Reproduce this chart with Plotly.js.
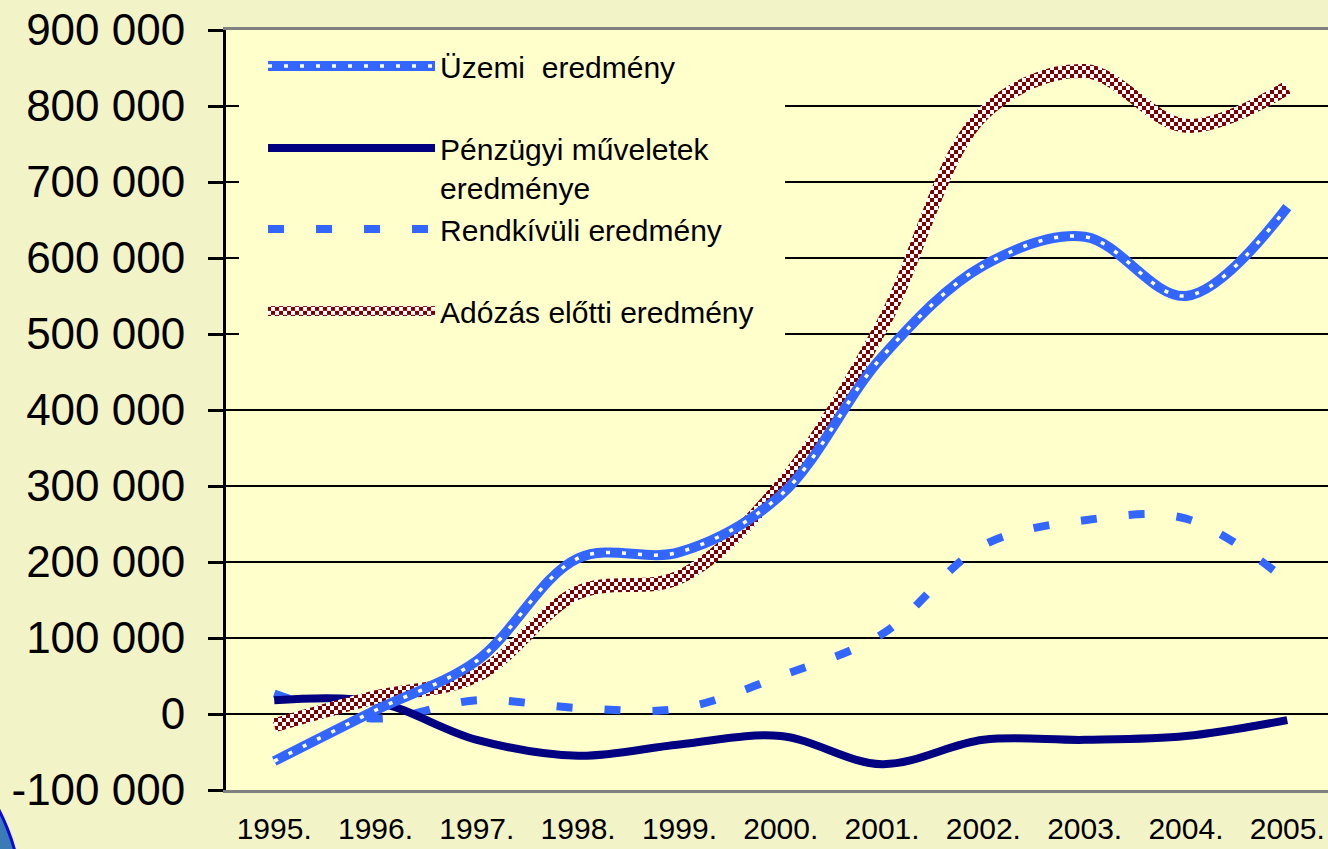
<!DOCTYPE html>
<html>
<head>
<meta charset="utf-8">
<script src="https://cdn.plot.ly/plotly-3.0.1.min.js"></script>
<style>
  html, body { margin: 0; padding: 0; background: #F3F3C8; }
  #chart { width: 1328px; height: 849px; }
</style>
</head>
<body>
<div id="chart"></div>
<script>
// ---- data ----
const years = ['1995.', '1996.', '1997.', '1998.', '1999.', '2000.', '2001.', '2002.', '2003.', '2004.', '2005.'];
const uzemi      = [-62000,   5000,  70000, 205000, 213000, 288000, 470000, 590000, 628000, 550000, 667000];
const penzugyi   = [ 18000,  16000, -34000, -55000, -40000, -29000, -66000, -34000, -34000, -29000,  -8000];
const rendkivuli = [ 27000,  -6000,  18000,   8000,   7000,  50000, 105000, 222000, 255000, 257000, 175000];
const adozas     = [-15000,  22000,  51000, 160000, 180000, 300000, 511000, 790000, 846000, 774000, 824000];

const names = ['Üzemi\u00a0 eredmény', 'Pénzügyi műveletek<br>eredménye', 'Rendkívüli eredmény', 'Adózás előtti eredmény'];
const yTickVals = [-100000, 0, 100000, 200000, 300000, 400000, 500000, 600000, 700000, 800000, 900000];
const yTickText = ['-100 000', '0', '100 000', '200 000', '300 000', '400 000', '500 000', '600 000', '700 000', '800 000', '900 000'];

const xIdx = years.map((_, i) => i);
const boundaries = years.slice(1).map((_, i) => i + 0.5);

const FONT = 'Liberation Sans, Arial, sans-serif';
const BLUE = '#3366FF';
const NAVY = '#000080';
const RED = '#800000';

const data = [
  { x: xIdx, y: rendkivuli, name: names[2], type: 'scatter', mode: 'lines',
    line: { color: BLUE, width: 8, dash: '16px,32px', shape: 'spline', smoothing: 1 },
    legendgroup: 'g2', legendrank: 3 },
  { x: xIdx, y: penzugyi, name: names[1], type: 'scatter', mode: 'lines',
    line: { color: NAVY, width: 8, shape: 'spline', smoothing: 1 },
    legendgroup: 'g2', legendrank: 2 },
  { x: xIdx, y: adozas, name: names[3], type: 'scatter', mode: 'lines',
    line: { color: RED, width: 14, shape: 'spline', smoothing: 1 },
    legendgroup: 'g3', legendrank: 4 },
  { x: xIdx, y: uzemi, name: names[0], type: 'scatter', mode: 'lines',
    line: { color: BLUE, width: 10, shape: 'spline', smoothing: 1 },
    legendgroup: 'g1', legendrank: 1 },
  { x: xIdx, y: uzemi, name: names[0], type: 'scatter', mode: 'lines', showlegend: false,
    line: { color: '#FFFFFF', width: 3.5, dash: '4px,12px', shape: 'spline', smoothing: 1 },
    legendgroup: 'g1', legendrank: 1 }
];

const layout = {
  width: 1328, height: 849,
  margin: { l: 226, r: 0, t: 30, b: 59, pad: 0 },
  paper_bgcolor: '#F3F3C8',
  plot_bgcolor: '#FFFFCC',
  font: { family: FONT, color: '#000000' },
  showlegend: true,
  legend: {
    x: 0.0336, y: 0.987, xanchor: 'left', yanchor: 'top',
    bgcolor: '#FFFFCC', borderwidth: 0,
    font: { family: FONT, size: 30, color: '#000000' },
    itemwidth: 167, traceorder: 'grouped', tracegroupgap: 40, valign: 'top'
  },
  xaxis: {
    type: 'linear', range: [-0.476, 10.402], fixedrange: true,
    tickmode: 'array', tickvals: xIdx, ticktext: years,
    ticks: '', showgrid: false, zeroline: false,
    showline: true, linecolor: '#808080', linewidth: 3, mirror: true,
    tickfont: { family: FONT, size: 30, color: '#000000' },
    ticklabelstandoff: 10
  },
  xaxis2: {
    type: 'linear', range: [-0.476, 10.402], overlaying: 'x', anchor: 'free', position: 0.1,
    tickmode: 'array', tickvals: boundaries, ticks: 'outside', ticklen: 9, tickwidth: 3, tickcolor: '#000000',
    showticklabels: false, showgrid: false, zeroline: false,
    showline: true, linecolor: '#000000', linewidth: 3
  },
  yaxis: {
    range: [-100000, 900000], fixedrange: true,
    tickmode: 'array', tickvals: yTickVals, ticktext: yTickText,
    ticks: 'outside', ticklen: 15, tickwidth: 3, tickcolor: '#000000',
    showgrid: true, gridcolor: '#000000', gridwidth: 2.5, zeroline: false,
    showline: true, linecolor: '#000000', linewidth: 3,
    tickfont: { family: FONT, size: 44, color: '#000000' },
    ticklabelstandoff: 14
  },
  yaxis2: {
    range: [-100000, 900000], overlaying: 'y', side: 'left', anchor: 'x',
    tickmode: 'array', tickvals: yTickVals,
    ticks: 'inside', ticklen: 14, tickwidth: 3, tickcolor: '#000000',
    showticklabels: false, showgrid: false, zeroline: false, showline: false
  },
  shapes: [
    // legend area backdrop (hides the gridlines behind the legend, like the original)
    { type: 'rect', xref: 'paper', yref: 'paper', x0: 0.0118, x1: 0.5073, y0: 0.5855, y1: 0.9868,
      fillcolor: '#FFFFCC', line: { width: 0 }, layer: 'above' },
    { type: 'circle', xref: 'paper', yref: 'paper', x0: -0.5608, x1: -0.1851, y0: -0.4237, y1: 0.121,
      fillcolor: '#3A7AB5', line: { color: '#0A0ADC', width: 3 }, layer: 'above' }
  ]
};

const gd = document.getElementById('chart');
Plotly.newPlot(gd, data, layout, { staticPlot: true, displayModeBar: false }).then(function () {
  const svgNS = 'http://www.w3.org/2000/svg';
  const mainSvg = gd.querySelector('svg.main-svg');
  let defs = mainSvg.querySelector('defs');
  if (!defs) { defs = document.createElementNS(svgNS, 'defs'); mainSvg.insertBefore(defs, mainSvg.firstChild); }
  const pat = document.createElementNS(svgNS, 'pattern');
  pat.setAttribute('id', 'chk');
  pat.setAttribute('patternUnits', 'userSpaceOnUse');
  pat.setAttribute('width', '8');
  pat.setAttribute('height', '8');
  const mk = (x, y, w, h, c) => { const r = document.createElementNS(svgNS, 'rect');
    r.setAttribute('x', x); r.setAttribute('y', y); r.setAttribute('width', w); r.setAttribute('height', h);
    r.setAttribute('fill', c); pat.appendChild(r); };
  mk(0, 0, 8, 8, '#FFFFFF'); mk(0, 0, 4, 4, RED); mk(4, 4, 4, 4, RED);
  defs.appendChild(pat);

  // checkerboard stroke for the Adózás series (trace index 2)
  const traces = gd.querySelectorAll('.scatterlayer .trace');
  if (traces[2]) traces[2].querySelectorAll('path.js-line').forEach(p => { p.style.stroke = 'url(#chk)'; });

  // legend symbols
  gd.querySelectorAll('.legend .traces').forEach(function (t) {
    const txt = (t.querySelector('.legendtext') || {}).textContent || '';
    const line = t.querySelector('.legendlines path');
    if (!line) return;
    if (txt.indexOf('Adózás') === 0) { line.style.stroke = 'url(#chk)'; }
    if (txt.indexOf('Üzemi') === 0) {
      const c = line.cloneNode(true);
      c.style.stroke = '#FFFFFF'; c.style.strokeWidth = '3.5px'; c.style.strokeDasharray = '4px,12px';
      line.parentNode.appendChild(c);
    }
  });
});
</script>
</body>
</html>
